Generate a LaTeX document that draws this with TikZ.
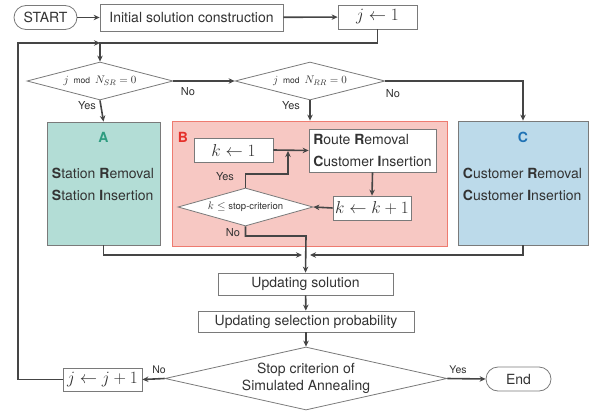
\documentclass[tikz,border=0pt]{standalone}
\usepackage{fontspec}
\setmainfont{TeX Gyre Heros}
\usetikzlibrary{arrows.meta,shapes.geometric}

\definecolor{linegray}{HTML}{454545}
\definecolor{boxgray}{HTML}{7A7A7A}
\definecolor{txtgray}{HTML}{333333}
\definecolor{afill}{HTML}{B3DDD6}
\definecolor{atext}{HTML}{2E9C80}
\definecolor{bfill}{HTML}{F7C8C3}
\definecolor{bline}{HTML}{EE7B70}
\definecolor{btext}{HTML}{E5312B}
\definecolor{cfill}{HTML}{BCDAEA}
\definecolor{ctext}{HTML}{1F72B5}

\tikzset{
  box/.style={draw=boxgray, line width=0.8pt, fill=white, inner sep=0pt, text=txtgray, font=\fontsize{14}{17}\selectfont},
  rbox/.style={box, rounded corners=12pt},
  mbox/.style={box, font=\fontsize{16}{18}\selectfont},
  dia/.style={diamond, draw=boxgray, line width=0.8pt, fill=white, inner sep=0pt, text=txtgray, font=\fontsize{11}{13}\selectfont},
  group/.style={draw=boxgray, line width=0.8pt, inner sep=0pt},
  flow/.style={draw=linegray, line width=1.6pt, -{Stealth[length=6pt,width=5.5pt]}},
  lbl/.style={text=txtgray, inner sep=1pt, font=\fontsize{11}{13}\selectfont},
}

\begin{document}
\begin{tikzpicture}[x=1pt, y=-1pt]
\useasboundingbox (0,0) rectangle (593,412);
% Start
\node[rbox, minimum width=63pt, minimum height=24pt] (start) at (45.5,17.5) {START};
\node[box, minimum width=183pt, minimum height=27pt] (init) at (191.5,17.5) {Initial solution construction};
\node[mbox, minimum width=79pt, minimum height=24pt] (j1) at (377.5,17) {$j\leftarrow 1$};
\coordinate (top) at (100,43);
\coordinate (loop) at (18,43);
% Operator choice
\node[dia, aspect=3.84, minimum width=146pt, minimum height=38pt] (dia1) at (100,81)
  {$j$\, {\fontsize{8.5}{10}\selectfont mod}\, $N_{SR}=0$};
\node[dia, aspect=3.95, minimum width=150pt, minimum height=38pt] (dia2) at (310,81)
  {$j$\, {\fontsize{8.5}{10}\selectfont mod}\, $N_{RR}=0$};
% Group A
\node[group, fill=afill, minimum width=113pt, minimum height=123pt] (boxA) at (103.5,183.5) {};
\node[text=atext, font=\fontsize{14}{17}\selectfont\bfseries] (labA) at (103.5,137) {A};
\node[text=txtgray, align=left, font=\fontsize{14}{22}\selectfont] (txtA) at (103,184)
  {\textbf{S}tation \textbf{R}emoval\\\textbf{S}tation \textbf{I}nsertion};
% Group B
\node[group, draw=bline, fill=bfill, minimum width=275pt, minimum height=125pt] (boxB) at (309.5,183.5) {};
\node[text=btext, font=\fontsize{14}{17}\selectfont\bfseries] (labB) at (183,137) {B};
\node[mbox, minimum width=79pt, minimum height=24pt] (k1) at (233.5,150) {$k\leftarrow 1$};
\node[box, minimum width=127pt, minimum height=43pt, align=left, font=\fontsize{14}{22}\selectfont] (rr) at (372.5,150.5)
  {\textbf{R}oute \textbf{R}emoval\\\textbf{C}ustomer \textbf{I}nsertion};
\node[mbox, minimum width=78pt, minimum height=24pt] (kinc) at (372,208) {$k\leftarrow k+1$};
\node[dia, aspect=3.55, minimum width=135pt, minimum height=38pt, font=\fontsize{10.5}{12}\selectfont] (dia3) at (245.5,207)
  {$k\leq$ {\fontsize{9.5}{11}\selectfont stop-criterion}};
\coordinate (yesup) at (288,174);
\coordinate (noturn) at (306,236);
% Group C
\node[group, fill=cfill, minimum width=130pt, minimum height=124pt] (boxC) at (523,183) {};
\node[text=ctext, font=\fontsize{14}{17}\selectfont\bfseries] (labC) at (523,137) {C};
\node[text=txtgray, align=left, font=\fontsize{14}{22}\selectfont] (txtC) at (522.5,184)
  {\textbf{C}ustomer \textbf{R}emoval\\\textbf{C}ustomer \textbf{I}nsertion};
\coordinate (mergeL) at (302,255);
\coordinate (mergeR) at (310,255);
% Update and stop
\node[box, minimum width=175pt, minimum height=22pt] (upd) at (305.5,284) {Updating solution};
\node[box, minimum width=216pt, minimum height=21pt] (sel) at (306,321.5) {Updating selection probability};
\node[dia, aspect=4.48, minimum width=282pt, minimum height=63pt, align=center, font=\fontsize{14}{17}\selectfont] (dia4) at (306,378.5)
  {Stop criterion of\\Simulated Annealing};
\node[mbox, minimum width=79pt, minimum height=23pt] (jinc) at (102.5,379.5) {$j\leftarrow j+1$};
\node[rbox, minimum width=65pt, minimum height=24pt] (end) at (518.5,379) {End};
% Labels
\node[lbl] (yes1) at (87,106) {Yes};
\node[lbl] (no1) at (188,92) {No};
\node[lbl] (yes2) at (291,106) {Yes};
\node[lbl] (no2) at (393,94) {No};
\node[lbl] (yes3) at (225,177) {Yes};
\node[lbl] (no3) at (233,233) {No};
\node[lbl, font=\fontsize{10.5}{12}\selectfont] (no4) at (159,370) {No};
\node[lbl, font=\fontsize{10.5}{12}\selectfont] (yes4) at (458,370) {Yes};
% Connectors
\draw[flow] (start) -- (init);
\draw[flow] (init) -- (j1);
\draw[flow] (j1.south) |- (top) -- (dia1.north);
\draw[flow] (jinc.west) -| (loop) -- (top);
\draw[flow] (dia1.east) -- (dia2.west);
\draw[flow] (dia1.south) -- (boxA.north);
\draw[flow] (dia2.south) -- (dia2.south |- boxB.north);
\draw[flow] (dia2.east) -| (boxC.north);
\draw[flow] (k1.east) -- (rr.west);
\draw[flow] (rr.south) -- (kinc.north);
\draw[flow] (kinc.west) -- (dia3.east);
\draw[flow, shorten >=1pt] (dia3.north) |- (yesup) -- (yesup |- k1.east);
\draw[flow] (dia3.south) |- (noturn) -- (upd.north);
\draw[flow] (boxA.south) |- (mergeL);
\draw[flow] (boxC.south) |- (mergeR);
\draw[flow] (upd) -- (sel);
\draw[flow] (sel) -- (dia4.north);
\draw[flow] (dia4.west) -- (jinc.east);
\draw[flow] (dia4.east) -- (end.west);
\end{tikzpicture}
\end{document}
